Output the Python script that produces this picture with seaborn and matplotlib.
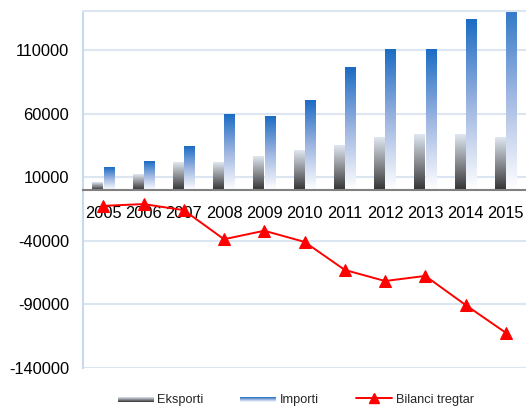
import numpy as np
import pandas as pd
import matplotlib
matplotlib.use('Agg')
import matplotlib.pyplot as plt
import seaborn as sns
from matplotlib.colors import LinearSegmentedColormap
from matplotlib.lines import Line2D
from matplotlib.patches import Patch
from matplotlib.legend_handler import HandlerBase
from matplotlib.image import BboxImage
from matplotlib.transforms import Bbox, TransformedBbox

years = ['2005', '2006', '2007', '2008', '2009', '2010', '2011', '2012', '2013', '2014', '2015']
eksporti = [5800, 12300, 21500, 21500, 26500, 31000, 35200, 41500, 43600, 43600, 41500]
importi = [17800, 22300, 34400, 59400, 58100, 70200, 96500, 111000, 111000, 134600, 154000]
bilanci = [-12400, -11000, -15800, -38700, -32000, -40800, -62900, -71600, -67600, -90500, -112400]
labels = ['Eksporti', 'Importi', 'Bilanci tregtar']

sns.set_style('white')
plt.rcParams['font.family'] = ['Liberation Sans', 'DejaVu Sans']

exp_cmap = LinearSegmentedColormap.from_list('exp', ['#333333', '#8a8d92', '#dfe7f0'])
imp_cmap = LinearSegmentedColormap.from_list('imp', ['#ffffff', '#9db5e0', '#1c6cc4'])
grad = np.linspace(0, 1, 128).reshape(-1, 1)

df = pd.DataFrame({'Year': years * 2,
                   'Value': eksporti + importi,
                   'Seria': [labels[0]] * len(years) + [labels[1]] * len(years)})

fig = plt.figure(figsize=(5.26, 4.11), dpi=100)
ax = fig.add_axes([0.158, 0.105, 0.842, 0.868])

sns.barplot(data=df, x='Year', y='Value', hue='Seria', order=years,
            hue_order=labels[:2], width=0.56, gap=0.06, legend=False, ax=ax)

# gradient fill on every bar, kept inside the axes box
for cont, cmap in zip(ax.containers, [exp_cmap, imp_cmap]):
    for bar in cont:
        x0, y0 = bar.get_x(), bar.get_y()
        w, h = bar.get_width(), bar.get_height()
        bar.set_facecolor('none')
        bar.set_edgecolor('none')
        ax.imshow(grad, cmap=cmap, origin='lower', aspect='auto',
                  extent=[x0, x0 + w, y0, y0 + h], interpolation='bilinear', zorder=2)

sns.lineplot(x=np.arange(len(years)), y=bilanci, color='#ff0000', linewidth=1.4,
             marker='^', markersize=8, markeredgecolor='#ff0000', ax=ax, zorder=5)

ax.set_xlim(-0.5, len(years) - 0.5)
ax.set_ylim(-140000, 141000)
ax.set_yticks([-140000, -90000, -40000, 10000, 60000, 110000])
ax.set_yticklabels(['-140000', '-90000', '-40000', '10000', '60000', '110000'])
ax.grid(axis='y', color='#dce6f2', linewidth=1.5)
ax.set_axisbelow(True)
ax.set_xlabel('')
ax.set_ylabel('')

ax.spines['bottom'].set_position(('data', 0))
ax.spines['bottom'].set_color('#808080')
ax.spines['bottom'].set_linewidth(1.5)
ax.spines['bottom'].set_zorder(4)
ax.spines['left'].set_color('#c6d9f1')
ax.spines['left'].set_linewidth(1.5)
ax.spines['top'].set_color('#dce6f2')
ax.spines['top'].set_linewidth(1.5)
ax.spines['right'].set_visible(False)

ax.set_xticks(np.arange(len(years)))
ax.set_xticklabels(years)
ax.set_xticks(np.arange(len(years) + 1) - 0.5, minor=True)
ax.tick_params(axis='x', which='major', length=0, pad=11.5, labelsize=11.8, colors='#000000')
ax.tick_params(axis='x', which='minor', length=7, direction='inout', width=1.2, color='#808080')
ax.tick_params(axis='y', length=3, width=1.5, color='#c6d9f1', pad=7, labelsize=11.8)
for t in ax.get_yticklabels():
    t.set_color('#000000')


class GradHandler(HandlerBase):
    def __init__(self, cmap):
        super().__init__()
        self.cmap = cmap

    def create_artists(self, legend, orig_handle, xdescent, ydescent, width, height, fontsize, trans):
        bb = Bbox.from_bounds(-xdescent, -ydescent + height * 0.15, width, height * 0.5)
        img = BboxImage(TransformedBbox(bb, trans), cmap=self.cmap, interpolation='bilinear', origin='lower')
        img.set_data(grad)
        return [img]


h_exp = Patch(facecolor='#666666')
h_imp = Patch(facecolor='#7f9fd6')
h_bil = Line2D([], [], color='#ff0000', linewidth=1.4, marker='^', markersize=7)
fig.legend([h_exp, h_imp, h_bil], labels, loc='center', bbox_to_anchor=(0.562, 0.027),
           ncol=3, frameon=False, fontsize=9.2, handlelength=2.8, handletextpad=0.3,
           columnspacing=2.9,
           handler_map={h_exp: GradHandler(exp_cmap), h_imp: GradHandler(imp_cmap)})

fig.savefig('out.png', dpi=100)
